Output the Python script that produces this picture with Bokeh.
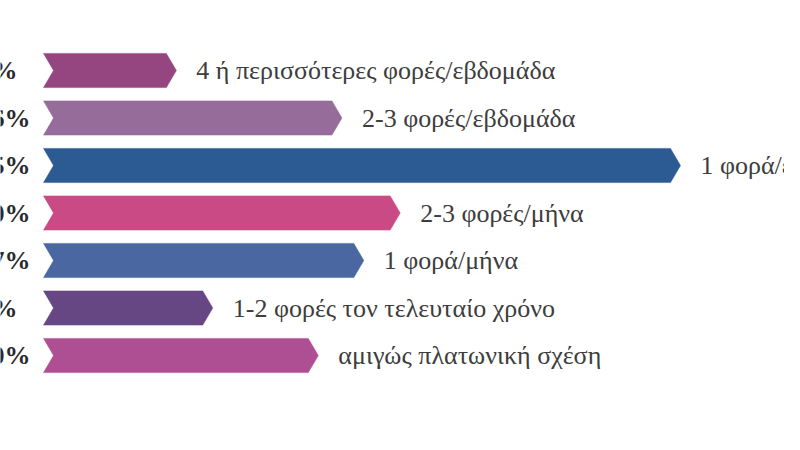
from bokeh.plotting import figure
from bokeh.models import ColumnDataSource, Range1d
from bokeh.core.properties import value
from bokeh.embed import file_html
from bokeh.resources import INLINE

# ---- data ----
categories = [
    "4 ή περισσότερες φορές/εβδομάδα",
    "2-3 φορές/εβδομάδα",
    "1 φορά/εβδομάδα",
    "2-3 φορές/μήνα",
    "1  φορά/μήνα",
    "1-2 φορές τον τελευταίο χρόνο",
    "αμιγώς πλατωνική σχέση",
]
shares = [7.3, 16.4, 35.0, 19.6, 17.6, 9.3, 15.1]
pct_labels = ["7%", "16%", "35%", "20%", "17%", "9%", "10%"]
colors = ["#95457f", "#966c9a", "#2b5b92", "#c94a85", "#4a67a1", "#664683", "#ae4f93"]

# ---- layout ----
W, H = 784, 434
px_per_unit = 18.2
bar_start_px = 43
row_px = 47.5
first_row_px = 70
tip_px = 10
half_h = 0.36

x_start = -bar_start_px / px_per_unit
x_end = x_start + W / px_per_unit
y_top = -first_row_px / row_px
y_bottom = y_top + H / row_px

d = tip_px / px_per_unit
rows = list(range(len(categories)))
xs, ys = [], []
for r, v in zip(rows, shares):
    xs.append([0, v - d, v, v - d, 0, d])
    ys.append([r - half_h, r - half_h, r, r + half_h, r + half_h, r])

bars = ColumnDataSource(dict(xs=xs, ys=ys, color=colors))
labels = ColumnDataSource(dict(x=shares, y=rows, text=categories))
pcts = ColumnDataSource(dict(x=[0] * len(rows), y=rows, text=pct_labels))

p = figure(width=W, height=H, output_backend="svg", toolbar_location=None,
           x_range=Range1d(x_start, x_end), y_range=Range1d(y_bottom, y_top),
           min_border=0, outline_line_color=None, background_fill_color="white",
           border_fill_color="white")
p.axis.visible = False
p.grid.visible = False

p.patches("xs", "ys", source=bars, fill_color="color", line_color="color", line_width=0.5)

p.text("x", "y", text="text", source=labels, x_offset=20,
       text_font=value("Liberation Serif"), text_font_size="26px",
       text_color="#3d3d3d", text_align="left", text_baseline="middle")

p.text("x", "y", text="text", source=pcts, x_offset=-65,
       text_font=value("Liberation Serif"), text_font_size="26px", text_font_style="bold",
       text_color="#2a2a2a", text_align="left", text_baseline="middle")

open("out.html", "w").write(file_html(p, INLINE))
